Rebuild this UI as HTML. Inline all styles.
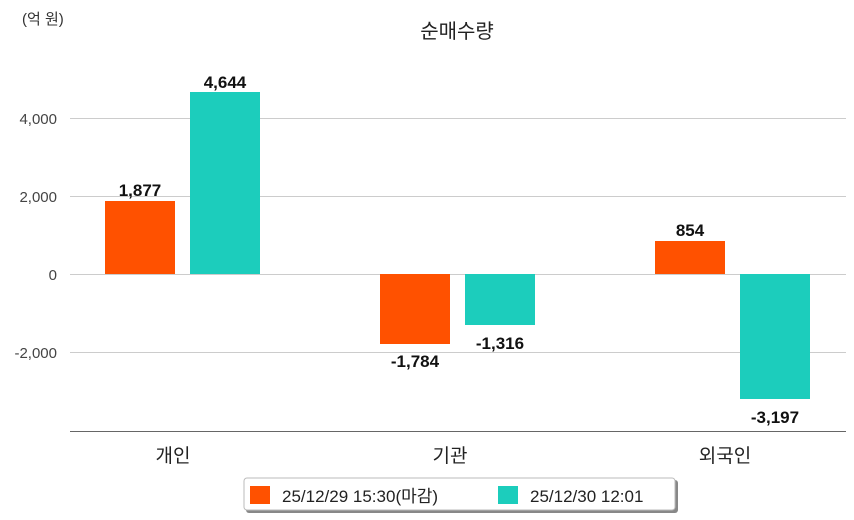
<!DOCTYPE html>
<html><head><meta charset="utf-8"><style>
body{margin:0;background:#fff;}
svg{display:block;font-family:"Liberation Sans","Noto Sans CJK KR",sans-serif;}
</style></head><body>
<svg width="854" height="520" viewBox="0 0 854 520">
<text x="22" y="24" font-size="15" fill="#333">(억 원)</text>
<text x="457" y="38" font-size="20" fill="#222" text-anchor="middle">순매수량</text>
<g stroke="#ccc" stroke-width="1">
<line x1="70" y1="118.5" x2="846" y2="118.5"/>
<line x1="70" y1="196.5" x2="846" y2="196.5"/>
<line x1="70" y1="274.5" x2="846" y2="274.5"/>
<line x1="70" y1="352.5" x2="846" y2="352.5"/>
</g>
<line x1="70" y1="431.5" x2="846" y2="431.5" stroke="#666"/>
<g font-size="15" fill="#444" text-anchor="end">
<text x="57" y="124">4,000</text>
<text x="57" y="202">2,000</text>
<text x="57" y="280">0</text>
<text x="57" y="358">-2,000</text>
</g>
<g fill="#ff5100">
<rect x="105" y="201" width="70" height="73"/>
<rect x="380" y="274" width="70" height="70"/>
<rect x="655" y="241" width="70" height="33"/>
</g>
<g fill="#1ccdbc">
<rect x="190" y="92" width="70" height="182"/>
<rect x="465" y="274" width="70" height="51"/>
<rect x="740" y="274" width="70" height="125"/>
</g>
<g font-size="17" font-weight="bold" fill="#111" text-anchor="middle">
<text x="140" y="196">1,877</text>
<text x="225" y="88">4,644</text>
<text x="415" y="367">-1,784</text>
<text x="500" y="349">-1,316</text>
<text x="690" y="236">854</text>
<text x="775" y="423">-3,197</text>
</g>
<g font-size="19" fill="#222" text-anchor="middle">
<text x="173" y="462">개인</text>
<text x="450" y="462">기관</text>
<text x="725" y="462">외국인</text>
</g>
<rect x="246" y="480" width="432" height="33" rx="3" fill="#888"/>
<rect x="244" y="478" width="431" height="32" rx="3" fill="#fff" stroke="#bbb"/>
<rect x="250" y="486" width="20" height="18" fill="#ff5100"/>
<text x="282" y="502" font-size="17" fill="#222">25/12/29 15:30(마감)</text>
<rect x="498" y="486" width="20" height="18" fill="#1ccdbc"/>
<text x="530" y="502" font-size="17" fill="#222">25/12/30 12:01</text>
</svg>
</body></html>
